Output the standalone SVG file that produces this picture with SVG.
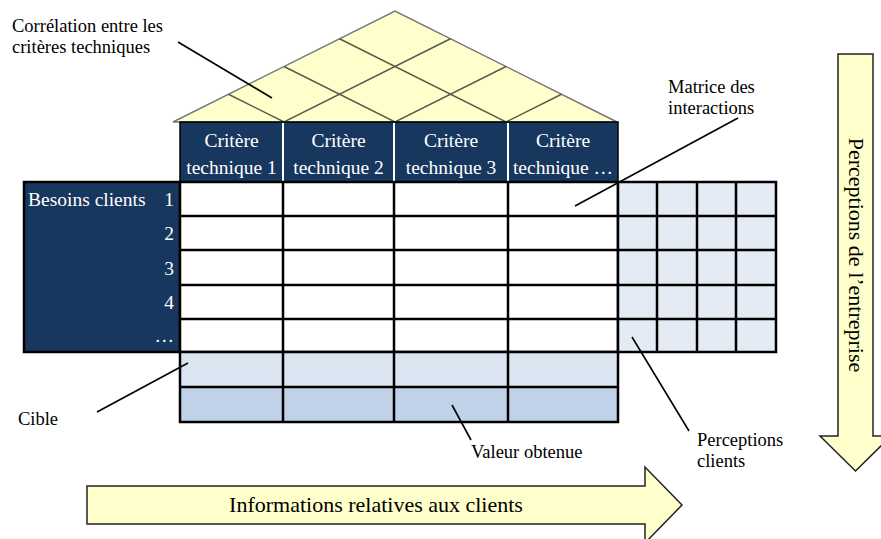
<svg xmlns="http://www.w3.org/2000/svg" width="881" height="539" viewBox="0 0 881 539">
<style>
.lbl{font-family:"Liberation Serif","Times New Roman",serif;font-size:18.5px;fill:#000}
.wt{font-family:"Liberation Serif","Times New Roman",serif;font-size:19.5px;fill:#fff}
.big{font-family:"Liberation Serif","Times New Roman",serif;font-size:22px;fill:#000}
.grid{stroke:#000;stroke-width:2.5;fill:none}
.lead{stroke:#000;stroke-width:1.6;fill:none}
.lat{stroke:#5a5a4a;stroke-width:1.5;fill:none}
.arrow{fill:#FFFFCC;stroke:#222;stroke-width:1.5}
</style>
<rect width="881" height="539" fill="#fff"/>

<g id="roof">
<polygon points="173,122 395,11 617,122" fill="#FFFFCC" stroke="#777" stroke-width="1.5"/>
<path class="lat" d="M228.5,94.25 L284,122 L450.5,38.75 M284,66.5 L395,122 L506,66.5 M339.5,38.75 L506,122 L561.5,94.25"/>
</g>

<g id="header">
<rect x="180" y="122" width="438" height="60" fill="#17375E" stroke="#000" stroke-width="1.5"/>
<path d="M283,123 V181 M394,123 V181 M508,123 V181" stroke="#fff" stroke-width="2"/>
<g class="wt" text-anchor="middle">
<text x="231.5" y="147">Critère</text><text x="231.5" y="174">technique 1</text>
<text x="338.5" y="147">Critère</text><text x="338.5" y="174">technique 2</text>
<text x="451" y="147">Critère</text><text x="451" y="174">technique 3</text>
<text x="563" y="147">Critère</text><text x="563" y="174">technique …</text>
</g>
</g>

<g id="needs">
<rect x="24" y="182" width="156" height="170" fill="#17375E" stroke="#000" stroke-width="2.5"/>
<text class="wt" x="28" y="206">Besoins clients</text>
<g class="wt" text-anchor="end">
<text x="174" y="206">1</text>
<text x="174" y="240">2</text>
<text x="174" y="274.5">3</text>
<text x="174" y="309">4</text>
<text x="174" y="342">…</text>
</g>
</g>

<g id="matrix">
<rect x="180" y="182" width="438" height="170" fill="#fff"/>
<path class="grid" d="M180,182 H618 V352 H180 Z M180,216 H618 M180,250 H618 M180,285 H618 M180,319 H618 M283,182 V352 M394,182 V352 M508,182 V352"/>
</g>

<g id="targets">
<rect x="180" y="352" width="438" height="35" fill="#DBE5F1"/>
<rect x="180" y="387" width="438" height="35" fill="#C0D2E8"/>
<path class="grid" d="M180,352 H618 V422 H180 Z M180,387 H618 M283,352 V422 M394,352 V422 M508,352 V422"/>
</g>

<g id="perceptions">
<rect x="618" y="182" width="158" height="170" fill="#E4EBF5"/>
<path class="grid" d="M618,182 H776 V352 H618 Z M618,216 H777 M618,250 H777 M618,285 H777 M618,319 H777 M657,182 V352 M697,182 V352 M736,182 V352"/>
</g>

<g id="arrow-clients">
<polygon class="arrow" points="87,486 645,486 645,467 682,505 645,543 645,524 87,524"/>
<text class="big" x="376" y="512" text-anchor="middle">Informations relatives aux clients</text>
</g>

<g id="arrow-entreprise">
<polygon class="arrow" points="838,54 873,54 873,436 891,436 855.5,471 820,436 838,436"/>
<text class="big" transform="translate(849,255) rotate(90)" text-anchor="middle">Perceptions de l’entreprise</text>
</g>

<g id="connectors">
<line class="lead" x1="178" y1="42" x2="272" y2="98"/>
<line class="lead" x1="738" y1="118" x2="575" y2="206"/>
<line class="lead" x1="188" y1="363" x2="97" y2="412"/>
<line class="lead" x1="452" y1="405" x2="471" y2="440"/>
<line class="lead" x1="632" y1="337" x2="689" y2="431"/>
</g>

<g id="labels" class="lbl">
<text x="12" y="32">Corrélation entre les</text>
<text x="12" y="53">critères techniques</text>
<text x="668" y="93">Matrice des</text>
<text x="668" y="114">interactions</text>
<text x="18" y="425">Cible</text>
<text x="471" y="458">Valeur obtenue</text>
<text x="697" y="446">Perceptions</text>
<text x="697" y="467">clients</text>
</g>
</svg>
